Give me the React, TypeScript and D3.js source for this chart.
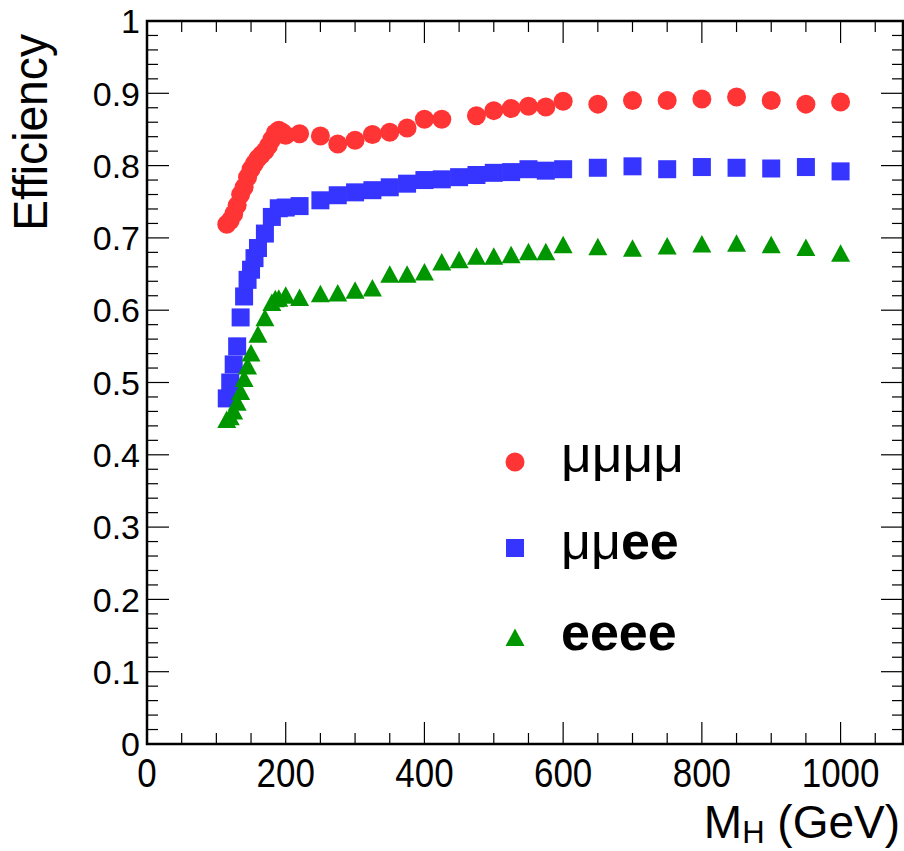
import React from "react";
import * as d3 from "d3";

// Higgs mass points (GeV) and selection efficiency per final state
const massMuMuMuMu = [115, 120, 125, 130, 135, 140, 145, 150, 155, 160, 165, 170, 175, 180, 185, 190, 195, 200, 220, 250, 275, 300, 325, 350, 375, 400, 425, 475, 500, 525, 550, 575, 600, 650, 700, 750, 800, 850, 900, 950, 1000];
const effMuMuMuMu = [0.719, 0.724, 0.733, 0.745, 0.760, 0.770, 0.784, 0.795, 0.803, 0.810, 0.815, 0.820, 0.827, 0.836, 0.845, 0.849, 0.846, 0.842, 0.844, 0.841, 0.830, 0.835, 0.843, 0.846, 0.852, 0.864, 0.864, 0.869, 0.876, 0.879, 0.882, 0.881, 0.889, 0.885, 0.890, 0.890, 0.892, 0.895, 0.890, 0.885, 0.888];

const massMuMuEE = [115, 120, 125, 130, 135, 140, 145, 150, 155, 160, 170, 180, 190, 200, 220, 250, 275, 300, 325, 350, 375, 400, 425, 450, 475, 500, 525, 550, 575, 600, 650, 700, 750, 800, 850, 900, 950, 1000];
const effMuMuEE = [0.478, 0.500, 0.525, 0.550, 0.590, 0.619, 0.642, 0.656, 0.672, 0.686, 0.706, 0.729, 0.741, 0.742, 0.744, 0.752, 0.759, 0.763, 0.766, 0.770, 0.775, 0.780, 0.781, 0.784, 0.787, 0.790, 0.791, 0.795, 0.793, 0.795, 0.797, 0.799, 0.795, 0.798, 0.797, 0.796, 0.798, 0.792];

const massEEEE = [115, 120, 125, 130, 135, 140, 145, 150, 160, 170, 180, 185, 190, 200, 220, 250, 275, 300, 325, 350, 375, 400, 425, 450, 475, 500, 525, 550, 575, 600, 650, 700, 750, 800, 850, 900, 950, 1000];
const effEEEE = [0.448, 0.452, 0.460, 0.472, 0.487, 0.505, 0.522, 0.540, 0.566, 0.589, 0.610, 0.615, 0.616, 0.620, 0.617, 0.622, 0.623, 0.627, 0.630, 0.649, 0.649, 0.652, 0.666, 0.669, 0.674, 0.674, 0.676, 0.680, 0.680, 0.690, 0.687, 0.685, 0.688, 0.691, 0.692, 0.690, 0.686, 0.678];

const xMajorTicks = [0, 200, 400, 600, 800, 1000];
const yMajorTicks = [0, 0.1, 0.2, 0.3, 0.4, 0.5, 0.6, 0.7, 0.8, 0.9, 1];

const W = 904;
const H = 851;
const frame = { left: 147, right: 903, top: 21, bottom: 744 };

const RED = "#ff3535";
const BLUE = "#3535ff";
const GREEN = "#009600";
const FONT = "'Liberation Sans', Arial, Helvetica, sans-serif";

type Shape = "circle" | "square" | "triangle";

function Marker({ shape, x, y, color }: { shape: Shape; x: number; y: number; color: string }) {
  if (shape === "circle") return <circle cx={x} cy={y} r={9.5} fill={color} />;
  if (shape === "square") return <rect x={x - 9} y={y - 9} width={18} height={18} fill={color} />;
  return <path d={`M${x},${y - 9.5}L${x + 9.5},${y + 8}L${x - 9.5},${y + 8}Z`} fill={color} />;
}

export default function App() {
  const x = d3.scaleLinear().domain([0, 1090]).range([frame.left, frame.right]);
  const y = d3.scaleLinear().domain([0, 1]).range([frame.bottom, frame.top]);

  const xMinor = d3.range(0, 1090, 50).filter((v) => v % 200 !== 0);
  const yMinor = d3.range(0, 100, 2).map((v) => v / 100).filter((v) => Math.round(v * 100) % 10 !== 0);

  const series: { mass: number[]; eff: number[]; shape: Shape; color: string }[] = [
    { mass: massMuMuMuMu, eff: effMuMuMuMu, shape: "circle", color: RED },
    { mass: massMuMuEE, eff: effMuMuEE, shape: "square", color: BLUE },
    { mass: massEEEE, eff: effEEEE, shape: "triangle", color: GREEN },
  ];

  const majorLen = 22;
  const minorLen = 11;

  return (
    <svg width={W} height={H} style={{ position: "absolute", left: 0, top: 0, background: "#fff" }} fontFamily={FONT}>
      <rect x={0} y={0} width={W} height={H} fill="#fff" />

      {/* data markers */}
      {series.map((s, si) =>
        s.mass.map((m, i) => <Marker key={`${si}-${i}`} shape={s.shape} x={x(m)} y={y(s.eff[i])} color={s.color} />)
      )}

      {/* ticks on all four sides */}
      <g stroke="#000" strokeWidth={1.2}>
        {xMajorTicks.map((v) => (
          <g key={`xM${v}`}>
            <line x1={x(v)} x2={x(v)} y1={frame.bottom} y2={frame.bottom - majorLen} />
            <line x1={x(v)} x2={x(v)} y1={frame.top} y2={frame.top + majorLen} />
          </g>
        ))}
        {xMinor.map((v) => (
          <g key={`xm${v}`}>
            <line x1={x(v)} x2={x(v)} y1={frame.bottom} y2={frame.bottom - minorLen} />
            <line x1={x(v)} x2={x(v)} y1={frame.top} y2={frame.top + minorLen} />
          </g>
        ))}
        {yMajorTicks.map((v) => (
          <g key={`yM${v}`}>
            <line x1={frame.left} x2={frame.left + majorLen} y1={y(v)} y2={y(v)} />
            <line x1={frame.right} x2={frame.right - majorLen} y1={y(v)} y2={y(v)} />
          </g>
        ))}
        {yMinor.map((v) => (
          <g key={`ym${v}`}>
            <line x1={frame.left} x2={frame.left + minorLen} y1={y(v)} y2={y(v)} />
            <line x1={frame.right} x2={frame.right - minorLen} y1={y(v)} y2={y(v)} />
          </g>
        ))}
      </g>

      {/* frame */}
      <rect
        x={frame.left}
        y={frame.top}
        width={frame.right - frame.left}
        height={frame.bottom - frame.top}
        fill="none"
        stroke="#000"
        strokeWidth={2.5}
      />

      {/* tick labels */}
      <g fill="#000">
        {yMajorTicks.map((v) => (
          <text key={`yl${v}`} x={frame.left - 7} y={y(v)} dy="0.36em" textAnchor="end" fontSize={34}>
            {v === 0 || v === 1 ? String(v) : v.toFixed(1)}
          </text>
        ))}
        {xMajorTicks.map((v) => (
          <text
            key={`xl${v}`}
            transform={`translate(${x(v)},${frame.bottom + 43}) scale(0.92,1.08)`}
            textAnchor="middle"
            fontSize={38}
          >
            {String(v)}
          </text>
        ))}
      </g>

      {/* axis titles */}
      <text
        transform={`translate(47,${frame.top + 13}) rotate(-90) scale(1.05,1.08)`}
        textAnchor="end"
        fontSize={44}
        fill="#000"
      >
        Efficiency
      </text>
      <text x={900} y={838} textAnchor="end" fontSize={46} fill="#000">
        M
        <tspan fontSize={31} dy={5}>H</tspan>
        <tspan dy={-5}> (GeV)</tspan>
      </text>

      {/* legend */}
      <g fill="#000">
        <Marker shape="circle" x={515} y={462} color={RED} />
        <Marker shape="square" x={515} y={548} color={BLUE} />
        <Marker shape="triangle" x={515} y={638} color={GREEN} />
        <text x={561} y={472} fontSize={50} textLength={123} lengthAdjust="spacingAndGlyphs">μμμμ</text>
        <text x={561} y={559} fontSize={52}>
          <tspan>μμ</tspan>
          <tspan fontWeight="bold">ee</tspan>
        </text>
        <text x={561} y={650} fontSize={52} fontWeight="bold">eeee</text>
      </g>
    </svg>
  );
}
